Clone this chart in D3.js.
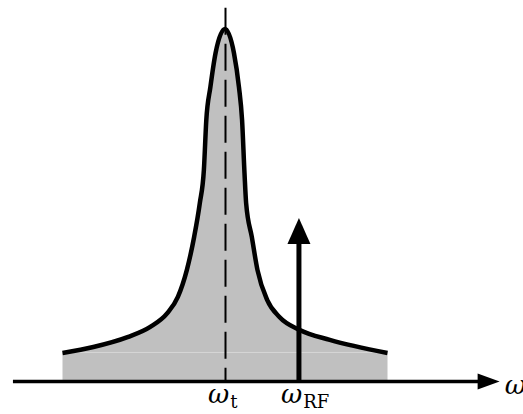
<!DOCTYPE html>
<html>
<head>
<meta charset="utf-8">
<script src="https://cdn.jsdelivr.net/npm/d3@7"></script>
<style>
  body { margin: 0; background: #fff; }
  svg { display: block; }
</style>
</head>
<body>
<div id="chart"></div>
<script>
// line shape (detuning from w_t, relative height)
var detuning = [-10, -8.1, -6.0, -4.6, -3.55, -2.9, -2.35, -1.9, -1.55, -1.3, -1.15, -0.9, -0.58, 0,
                0.55, 0.86, 1.05, 1.2, 1.3, 1.65, 2.0, 2.6, 3.35, 4.6, 6.45, 10];
var response = [0.081, 0.098, 0.126, 0.155, 0.194, 0.240, 0.316, 0.410, 0.506, 0.600, 0.742, 0.835, 0.932, 1,
                0.932, 0.835, 0.742, 0.591, 0.506, 0.410, 0.316, 0.231, 0.183, 0.146, 0.118, 0.081];

var omegaT = 0;        // transition frequency
var omegaRF = 4.55;    // drive frequency
var rfHeight = 0.464;  // arrow tip
var axisStart = -13.05, axisEnd = 16.9;
var dashTop = 1.06;

var labelT = ["ω", "t"];
var labelRF = ["ω", "RF"];
var labelAxis = "ω";

var width = 523, height = 414;

var x = d3.scaleLinear()
    .domain([-10, 10])
    .range([62.5, 387.5]);

var y = d3.scaleLinear()
    .domain([0, 1])
    .range([381.5, 29]);

var svg = d3.select("#chart")
    .append("svg")
    .attr("width", width)
    .attr("height", height);

var data = detuning.map(function(d, i){ return {x: d, y: response[i]}; });

// filled area under the line
var area = d3.area()
    .x(function(d){ return x(d.x); })
    .y0(y(0))
    .y1(function(d){ return y(d.y); })
    .curve(d3.curveMonotoneX);

svg.append("path")
    .datum(data)
    .attr("d", area)
    .style("fill", "#c0c0c0")
    .style("stroke", "none");

// faint seam in the fill
svg.append("line")
    .attr("x1", x(detuning[0]))
    .attr("x2", x(detuning[detuning.length - 1]))
    .attr("y1", y(response[0]) - 0.5)
    .attr("y2", y(response[0]) - 0.5)
    .style("stroke", "#d6d6d6")
    .style("stroke-width", "1px");

// dashed line at w_t
svg.append("line")
    .attr("x1", x(omegaT) + 0.5)
    .attr("x2", x(omegaT) + 0.5)
    .attr("y1", y(dashTop))
    .attr("y2", y(0))
    .style("stroke", "#000")
    .style("stroke-width", "2px")
    .style("stroke-dasharray", "27,9");

// the line
var line = d3.line()
    .x(function(d){ return x(d.x); })
    .y(function(d){ return y(d.y); })
    .curve(d3.curveMonotoneX);

svg.append("path")
    .datum(data)
    .attr("d", line)
    .style("fill", "none")
    .style("stroke", "#000")
    .style("stroke-width", "4.5px")
    .style("stroke-linejoin", "round");

// frequency axis with arrow
var headLen = 22, headHalf = 8;
svg.append("line")
    .attr("x1", x(axisStart))
    .attr("x2", x(axisEnd) - headLen + 1)
    .attr("y1", y(0))
    .attr("y2", y(0))
    .style("stroke", "#000")
    .style("stroke-width", "3.5px");

svg.append("path")
    .attr("d", "M" + x(axisEnd) + "," + y(0) +
               "L" + (x(axisEnd) - headLen) + "," + (y(0) - headHalf) +
               "L" + (x(axisEnd) - headLen) + "," + (y(0) + headHalf) + "Z")
    .style("fill", "#000");

// RF arrow
var rfHead = 26, rfHalf = 11.5;
svg.append("line")
    .attr("x1", x(omegaRF))
    .attr("x2", x(omegaRF))
    .attr("y1", y(0))
    .attr("y2", y(rfHeight) + rfHead - 1)
    .style("stroke", "#000")
    .style("stroke-width", "5px");

svg.append("path")
    .attr("d", "M" + x(omegaRF) + "," + y(rfHeight) +
               "L" + (x(omegaRF) - rfHalf) + "," + (y(rfHeight) + rfHead) +
               "L" + (x(omegaRF) + rfHalf) + "," + (y(rfHeight) + rfHead) + "Z")
    .style("fill", "#000");

// labels
function mathLabel(px, py, parts){
    var t = svg.append("text")
        .attr("x", px)
        .attr("y", py)
        .style("font-family", "'DejaVu Serif'")
        .style("fill", "#000");
    t.append("tspan")
        .style("font-style", "italic")
        .style("font-size", "26px")
        .text(parts[0]);
    if (parts[1]) {
        t.append("tspan")
            .attr("dy", 5)
            .attr("dx", 1)
            .style("font-size", "18px")
            .text(parts[1]);
    }
    return t;
}

mathLabel(x(omegaT) - 17, 403, labelT);
mathLabel(x(omegaRF) - 18, 403, labelRF);
mathLabel(x(axisEnd) + 5, 394, [labelAxis]);
</script>
</body>
</html>
